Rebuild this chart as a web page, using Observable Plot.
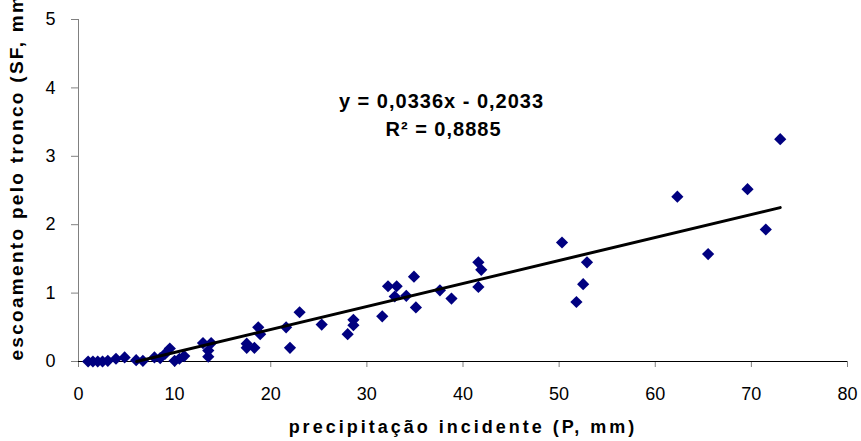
<!DOCTYPE html>
<html>
<head>
<meta charset="utf-8">
<script src="https://cdn.jsdelivr.net/npm/d3@7"></script>
<script src="https://cdn.jsdelivr.net/npm/@observablehq/plot@0.6"></script>
<style>
  html, body { margin: 0; padding: 0; background: #fff; }
  #chart svg { display: block; }
</style>
</head>
<body>
<div id="chart"></div>
<script>
// precipitação incidente (P, mm)
const precip = [1.0, 1.5, 2.0, 2.5, 3.05, 3.9, 4.8, 6.0, 6.7, 7.9, 8.5, 9.0, 9.5, 10.0, 10.5, 11.0,
  12.95, 13.8, 13.5, 13.5, 17.5, 17.5, 18.3, 18.7, 18.9, 21.6, 22.0, 23.0, 25.3, 28.0, 28.6, 28.6,
  31.6, 32.2, 33.1, 32.9, 34.1, 34.9, 35.1, 37.6, 38.8, 41.6, 41.6, 41.9,
  50.3, 52.9, 52.5, 51.8, 62.3, 65.5, 69.6, 71.5, 73.0];
// escoamento pelo tronco (SF, mm)
const flow = [0.0, 0.0, 0.0, 0.0, 0.01, 0.04, 0.06, 0.02, 0.01, 0.06, 0.05, 0.11, 0.19, 0.01, 0.04, 0.08,
  0.27, 0.27, 0.16, 0.07, 0.26, 0.2, 0.2, 0.5, 0.4, 0.5, 0.2, 0.72, 0.54, 0.4, 0.53, 0.61,
  0.66, 1.1, 1.1, 0.95, 0.96, 1.24, 0.79, 1.04, 0.92, 1.09, 1.45, 1.34,
  1.74, 1.45, 1.13, 0.87, 2.41, 1.57, 2.52, 1.93, 3.25];
// linha de tendência (endpoints)
const trendX = [6.05, 73.0];
const trendY = [0.0, 2.25];
const xTicks = [0, 10, 20, 30, 40, 50, 60, 70, 80];
const yTicks = [0, 1, 2, 3, 4, 5];
const xLabel = "precipitação incidente (P, mm)";
const yLabel = "escoamento pelo tronco (SF, mm)";
const eqLines = ["y = 0,0336x - 0,2033", "R² = 0,8885"];

const points = precip.map((p, i) => ({p, sf: flow[i]}));
const trend = trendX.map((x, i) => ({x, y: trendY[i]}));

const chart = Plot.plot({
  width: 861,
  height: 441,
  marginLeft: 78,
  marginRight: 14,
  marginTop: 19,
  marginBottom: 80,
  style: {fontFamily: "'Liberation Sans', Arial, sans-serif", fontSize: "17px", color: "#000", background: "#fff", overflow: "hidden"},
  x: {domain: [0, 80]},
  y: {domain: [0, 5]},
  marks: [
    Plot.axisX({ticks: xTicks, tickFormat: d => String(d), tickSize: 6, tickPadding: 20, label: null, fontSize: 18, stroke: "#808080"}),
    Plot.axisY({ticks: yTicks, tickFormat: d => String(d), tickSize: 7, tickPadding: 16, label: null, fontSize: 18, stroke: "#808080"}),
    Plot.ruleX([0], {stroke: "#808080"}),
    Plot.ruleY([0], {stroke: "#000"}),
    Plot.dot(points, {x: "p", y: "sf", symbol: "diamond2", r: 5.5, fill: "#000080", stroke: null}),
    Plot.line(trend, {x: "x", y: "y", stroke: "#000", strokeWidth: 3}),
    Plot.text([xLabel], {frameAnchor: "bottom", dy: 71, fontWeight: "bold", fontSize: 18, text: d => d}),
    Plot.text([yLabel], {frameAnchor: "bottom-left", dx: -56, dy: -1, rotate: -90, textAnchor: "start", fontWeight: "bold", fontSize: 19, text: d => d}),
    Plot.text([eqLines[0]], {frameAnchor: "top-left", textAnchor: "middle", dx: 363, dy: 74, fontWeight: "bold", fontSize: 20, text: d => d}),
    Plot.text([eqLines[1]], {frameAnchor: "top-left", textAnchor: "middle", dx: 365, dy: 102, fontWeight: "bold", fontSize: 20, text: d => d})
  ]
});
document.getElementById("chart").appendChild(chart);
const sel = d3.select(chart).selectAll("text");
sel.filter(function() { return this.textContent === xLabel; }).style("letter-spacing", "3px");
sel.filter(function() { return this.textContent === yLabel; }).style("letter-spacing", "2.3px");
sel.filter(function() { return eqLines.includes(this.textContent); }).style("letter-spacing", "1px");
</script>
</body>
</html>
